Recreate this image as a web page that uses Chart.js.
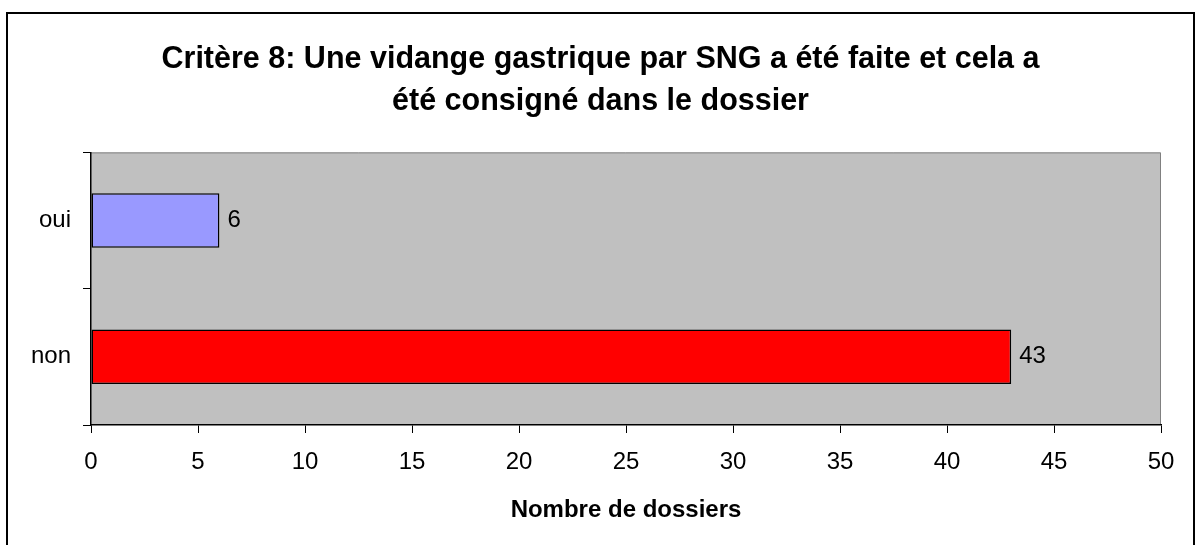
<!DOCTYPE html>
<html lang="fr">
<head>
    <title>Critère 8</title>
    <script src="https://cdn.jsdelivr.net/npm/chart.js@4.4.1/dist/chart.umd.min.js"></script>
    <style>
    body {
        margin: 0;
        background-color: white;
        overflow: hidden;
    }
    </style>
</head>
<body>
    <canvas id="chart" width="1196" height="545"></canvas>

    <script>
        // Données du graphique
        const categories = ['oui', 'non'];
        const dossiers = [6, 43];
        const barColors = ['#9999FF', '#FF0000'];
        const titleLines = ['Critère 8: Une vidange gastrique par SNG a été faite et cela a', 'été consigné dans le dossier'];
        const xTitle = 'Nombre de dossiers';

        const FONT = "'Liberation Sans', Arial, sans-serif";

        // Cadre extérieur + fond gris de la zone de tracé
        const backgroundPlugin = {
            id: 'background',
            afterLayout(chart) {
                // recentrer le titre vers x ~ 600 comme l'original
                if (chart.titleBlock) {
                    chart.titleBlock.left = 40;
                    chart.titleBlock.right = 1161;
                }
            },
            beforeDraw(chart) {
                const ctx = chart.ctx;
                const a = chart.chartArea;
                ctx.save();
                ctx.fillStyle = 'white';
                ctx.fillRect(0, 0, chart.width, chart.height);
                ctx.strokeStyle = 'black';
                ctx.lineWidth = 2;
                ctx.strokeRect(7, 13, 1187, 600);
                ctx.fillStyle = '#C0C0C0';
                ctx.fillRect(a.left, a.top, a.right - a.left, a.bottom - a.top);
                ctx.strokeStyle = '#808080';
                ctx.lineWidth = 1;
                ctx.beginPath();
                ctx.moveTo(a.left, a.top + 0.5);
                ctx.lineTo(a.right - 0.5, a.top + 0.5);
                ctx.lineTo(a.right - 0.5, a.bottom);
                ctx.stroke();
                ctx.restore();
            }
        };

        // Étiquettes de valeur à droite des barres
        const valueLabels = {
            id: 'valueLabels',
            afterDatasetsDraw(chart) {
                const ctx = chart.ctx;
                ctx.save();
                ctx.font = '24px ' + FONT;
                ctx.fillStyle = 'black';
                ctx.textAlign = 'left';
                ctx.textBaseline = 'middle';
                chart.getDatasetMeta(0).data.forEach((bar, i) => {
                    ctx.fillText(String(dossiers[i]), bar.x + 8, bar.y);
                });
                ctx.restore();
            }
        };

        const ctx = document.getElementById('chart').getContext('2d');
        new Chart(ctx, {
            type: 'bar',
            data: {
                labels: categories,
                datasets: [{
                    data: dossiers,
                    backgroundColor: barColors,
                    borderColor: 'black',
                    borderWidth: 1.5,
                    borderSkipped: false,
                    barPercentage: 0.4,
                    categoryPercentage: 1
                }]
            },
            options: {
                indexAxis: 'y',
                responsive: false,
                animation: false,
                layout: {
                    padding: { left: 0, right: 35, top: 0, bottom: 0 }
                },
                plugins: {
                    legend: { display: false },
                    tooltip: { enabled: false },
                    title: {
                        display: true,
                        text: titleLines,
                        color: 'black',
                        font: { family: FONT, size: 30.5, weight: 'bold', lineHeight: 1.4 },
                        padding: { top: 38, bottom: 29 }
                    }
                },
                scales: {
                    x: {
                        min: 0,
                        max: 50,
                        ticks: {
                            stepSize: 5,
                            color: 'black',
                            padding: 15,
                            font: { family: FONT, size: 24 }
                        },
                        grid: {
                            drawOnChartArea: false,
                            drawTicks: true,
                            tickLength: 8,
                            color: 'black'
                        },
                        border: { display: true, color: 'black', width: 1.5 },
                        title: {
                            display: true,
                            text: xTitle,
                            color: 'black',
                            font: { family: FONT, size: 24, weight: 'bold' },
                            padding: { top: 10, bottom: 20 }
                        },
                        afterFit(scale) { scale.height = 120; }
                    },
                    y: {
                        ticks: {
                            color: 'black',
                            padding: 12,
                            font: { family: FONT, size: 24 }
                        },
                        grid: {
                            drawOnChartArea: false,
                            drawTicks: true,
                            tickLength: 8,
                            color: 'black',
                            offset: true
                        },
                        border: { display: true, color: 'black', width: 1.5 },
                        afterFit(scale) { scale.width = 91; }
                    }
                }
            },
            plugins: [backgroundPlugin, valueLabels]
        });
    </script>
</body>
</html>
